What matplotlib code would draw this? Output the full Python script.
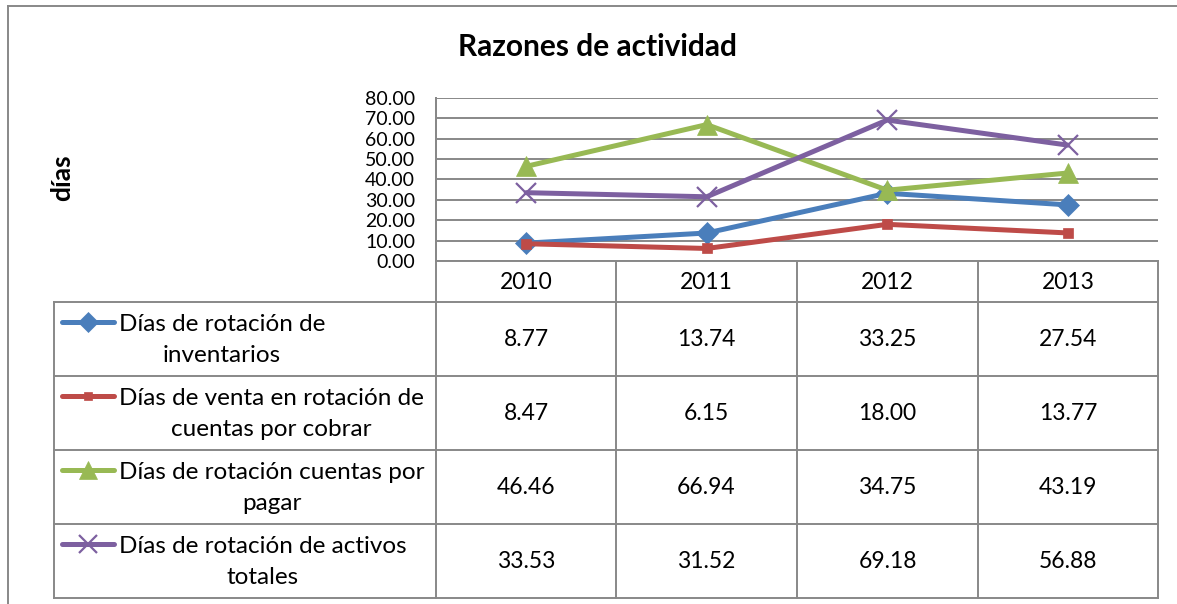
import matplotlib
matplotlib.use("Agg")
import matplotlib.pyplot as plt

plt.rcParams['font.family'] = ['Lato', 'DejaVu Sans']

years = ['2010', '2011', '2012', '2013']
series_names = [
    'Días de rotación de\ninventarios',
    'Días de venta en rotación de\ncuentas por cobrar',
    'Días de rotación cuentas por\npagar',
    'Días de rotación de activos\ntotales',
]
inventarios = [8.77, 13.74, 33.25, 27.54]
cobrar = [8.47, 6.15, 18.00, 13.77]
pagar = [46.46, 66.94, 34.75, 43.19]
activos = [33.53, 31.52, 69.18, 56.88]
yticks = [0, 10, 20, 30, 40, 50, 60, 70, 80]

series = [inventarios, cobrar, pagar, activos]
colors = ['#4A7EBB', '#BE4B48', '#98B954', '#7D60A0']
markers = ['D', 's', '^', 'x']
msizes = [11.5, 7, 14, 14]

W, H = 1177, 604
fig = plt.figure(figsize=(W / 100, H / 100), dpi=100)

# overlay axes in pixel coordinates for frame/table
ov = fig.add_axes([0, 0, 1, 1])
ov.set_xlim(0, W)
ov.set_ylim(H, 0)
ov.axis('off')

# plot area
L, R, T, B = 436, 1158, 98, 261
ax = fig.add_axes([L / W, 1 - B / H, (R - L) / W, (B - T) / H])
ax.set_xlim(-0.5, len(years) - 0.5)
ax.set_ylim(0, 80)
ax.set_yticks(yticks)
ax.set_yticklabels([f'{v:.2f}' for v in yticks], fontsize=14)
ax.set_xticks([])
ax.tick_params(axis='y', length=0, pad=15)
for s in ['top', 'right', 'bottom']:
    ax.spines[s].set_visible(False)
ax.spines['left'].set_color('#888888')
ax.spines['left'].set_linewidth(1.4)
ax.grid(axis='y', color='#888888', linewidth=1.4)
ax.set_axisbelow(True)
ax.patch.set_alpha(0)

xs = list(range(len(years)))
for vals, c, m, ms in zip(series, colors, markers, msizes):
    ax.plot(xs, vals, color=c, linewidth=3.6, marker=m, markersize=ms,
            markeredgewidth=1.6 if m == 'x' else 0.5, markeredgecolor=c,
            markerfacecolor=c, solid_capstyle='round', clip_on=False, zorder=3)

# outer frame
gc = '#888888'
ov.plot([8, 8], [6, H], color=gc, lw=1.4)
ov.plot([8, W], [6, 6], color=gc, lw=1.4)

# table
col_edges = [436, 616, 797, 978, 1158]
row_edges = [302, 376, 450, 524, 598]
tl = 54
for x in col_edges:
    ov.plot([x, x], [B if x != L else T, row_edges[-1]], color=gc, lw=1.4)
ov.plot([tl, tl], [row_edges[0], row_edges[-1]], color=gc, lw=1.4)
ov.plot([L, R], [B, B], color=gc, lw=1.4)
for y in row_edges:
    ov.plot([tl, R], [y, y], color=gc, lw=1.4)

# header years
for i, yr in enumerate(years):
    cx = (col_edges[i] + col_edges[i + 1]) / 2
    ov.text(cx, (B + row_edges[0]) / 2 + 1, yr, ha='center', va='center', fontsize=16.5)

# rows
for r, (name, vals, c, m, ms) in enumerate(zip(series_names, series, colors, markers, msizes)):
    y0, y1 = row_edges[r], row_edges[r + 1]
    ymid = (y0 + y1) / 2
    ly = y0 + 20
    ov.plot([62, 114], [ly, ly], color=c, lw=3.6, solid_capstyle='round')
    ov.plot([88], [ly], marker=m, markersize=ms * 0.9, color=c, markeredgecolor=c,
            markeredgewidth=1.6 if m == 'x' else 0.5)
    ov.text(119, ymid + 1, name, ha='left', va='center', multialignment='center',
            fontsize=17.5, linespacing=1.55)
    for i, v in enumerate(vals):
        cx = (col_edges[i] + col_edges[i + 1]) / 2
        ov.text(cx, ymid + 1, f'{v:.2f}', ha='center', va='center', fontsize=16.5)

# title and y label
ov.text(598, 47, 'Razones de actividad', ha='center', va='center', fontsize=21.5, fontweight='bold')
ov.text(62, 178, 'días', ha='center', va='center', rotation=90, fontsize=19, fontweight='bold')

fig.savefig('out.png', dpi=100)
